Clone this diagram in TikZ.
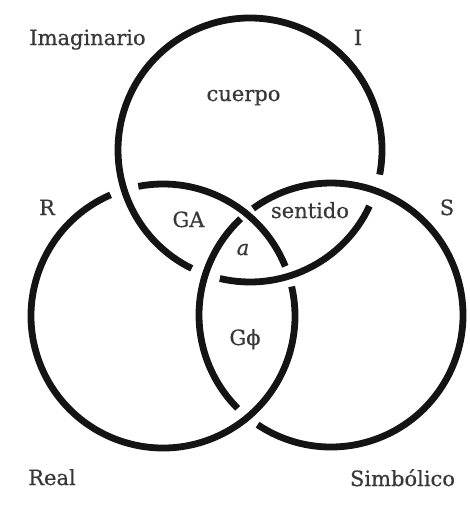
\documentclass[tikz,border=0pt]{standalone}
\usepackage{fontspec}
\setmainfont{DejaVu Serif}[FakeBold=0.5]
\begin{document}
\begin{tikzpicture}[x=1pt,y=1pt,
  ring/.style={line width=6.8pt,draw=black!92},
  lbl/.style={anchor=base,inner sep=0pt,text=black!78,font=\fontsize{21}{24}\selectfont}]
\useasboundingbox[fill=white] (0,0) rectangle (470,-517);
% centres
\coordinate (CI) at (250,-150);
\coordinate (CR) at (163,-316);
\coordinate (CS) at (331,-315);
\def\rr{132}
% Real ring (under I)
\draw[ring] (CR) ++(22.1:\rr) arc[start angle=22.1,end angle=100.8,radius=\rr];
\draw[ring] (CR) ++(113.4:\rr) arc[start angle=113.4,end angle=372.9,radius=\rr];
% Symbolic ring (under R)
\draw[ring] (CS) ++(133.2:\rr) arc[start angle=133.2,end angle=225,radius=\rr];
\draw[ring] (CS) ++(236.2:\rr) arc[start angle=236.2,end angle=486.2,radius=\rr];
% Imaginary ring (under S)
\draw[ring] (CI) ++(-10.75:\rr) arc[start angle=-10.75,end angle=243.8,radius=\rr];
\draw[ring] (CI) ++(256.8:\rr) arc[start angle=256.8,end angle=334.85,radius=\rr];
% labels
\node[lbl] (imag) at (87.5,-45) {Imaginario};
\node[lbl] (li) at (358,-45) {I};
\node[lbl] (cuerpo) at (243.5,-101) {cuerpo};
\node[lbl] (lr) at (47,-215) {R};
\node[lbl] (ls) at (447,-215) {S};
\node[lbl] (ga) at (188.5,-227) {GA};
\node[lbl] (sentido) at (310,-218) {sentido};
\node[lbl] (obja) at (243,-255) {\itshape a};
\node[lbl] (gphi) at (245,-345) {Gϕ};
\node[lbl] (real) at (52,-485) {Real};
\node[lbl] (simb) at (402.5,-486) {Simbólico};
\end{tikzpicture}
\end{document}
